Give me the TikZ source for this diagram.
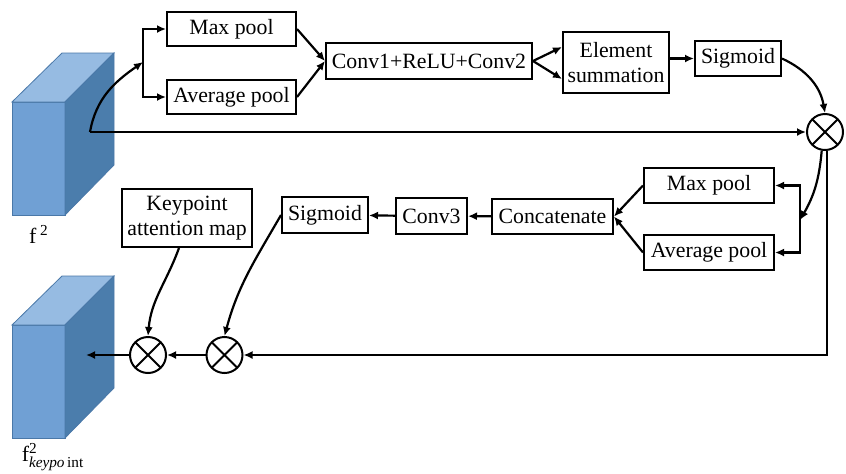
\documentclass[tikz,border=0pt]{standalone}
\usepackage{amsmath}
\usepackage{fontspec}
\setmainfont{Liberation Serif}
\newfontfamily\boxfont{Liberation Serif}
\usetikzlibrary{arrows.meta,calc}

\definecolor{cubefront}{HTML}{70A0D4}
\definecolor{cubetop}{HTML}{96BBE2}
\definecolor{cubeside}{HTML}{4B7DAC}
\definecolor{cubeedge}{HTML}{4A78A8}

\tikzset{
  blk/.style={draw, line width=1pt, inner sep=0pt, align=center,
    font=\boxfont\fontsize{10.9}{12.5}\selectfont},
  mul/.style={draw, circle, line width=1pt, minimum size=18pt, inner sep=0pt,
    path picture={\draw[line width=1pt]
      (path picture bounding box.south west) -- (path picture bounding box.north east)
      (path picture bounding box.north west) -- (path picture bounding box.south east);}},
  flow/.style={line width=1.1pt, -{Latex[length=4.5pt,width=4pt]}},
  cubeface/.style={draw=cubeedge, line width=0.4pt},
  lbl/.style={font=\boxfont\fontsize{10.9}{12.5}\selectfont, inner sep=1pt},
}

\begin{document}
\begin{tikzpicture}[x=0.5pt, y=0.5pt]
\useasboundingbox (0,0) rectangle (846,-473);

% feature cubes
\foreach \dy in {0,-223} {
  \begin{scope}[yshift=\dy*0.5pt]
    \fill[cubefront, cubeface] (12,-102) rectangle (65,-215);
    \fill[cubetop, cubeface] (12,-102) -- (62,-53) -- (114,-53) -- (65,-102) -- cycle;
    \fill[cubeside, cubeface] (65,-102) -- (114,-53) -- (114,-165) -- (65,-215) -- cycle;
  \end{scope}
}
\node[lbl] (fin) at (39,-234) {f\,$^{\text{2}}$};
\node[lbl] (fout) at (53,-457)
  {f$^{\text{2}}_{\text{\itshape keypo\/}\text{\,int}}$};

% channel attention
\node[blk, minimum width=64.5pt, minimum height=17pt] (maxA) at (231.5,-29) {Max pool};
\node[blk, minimum width=64.5pt, minimum height=17pt] (avgA) at (231.5,-97) {Average pool};
\node[blk, minimum width=103pt, minimum height=18pt] (conv) at (429,-61) {Conv1+ReLU+Conv2};
\node[blk, minimum width=53pt, minimum height=30.5pt] (elem) at (616,-62.5) {Element\\summation};
\node[blk, minimum width=43pt, minimum height=17.5pt] (sigA) at (738,-58.5) {Sigmoid};
\node[mul] (mulA) at (825,-132) {};

% spatial attention
\node[blk, minimum width=65pt, minimum height=17.5pt] (maxB) at (709,-185.5) {Max pool};
\node[blk, minimum width=65pt, minimum height=17.5pt] (avgB) at (709,-252.5) {Average pool};
\node[blk, minimum width=60.5pt, minimum height=17.5pt] (cat) at (552.5,-216.5) {Concatenate};
\node[blk, minimum width=35.5pt, minimum height=18pt] (convC) at (431.5,-216) {Conv3};
\node[blk, minimum width=43pt, minimum height=18pt] (sigB) at (325,-215) {Sigmoid};
\node[blk, minimum width=65pt, minimum height=29pt] (kpt) at (187,-218) {Keypoint\\attention map};
\node[mul] (mulB) at (224.5,-355) {};
\node[mul] (mulC) at (148,-355) {};

\coordinate (src) at (90,-132);
\coordinate (brA) at (143,-62);
\coordinate (brB) at (800,-220);
\coordinate (dst) at (86,-355);

\draw[flow] (src) to[out=80,in=215] (brA);
\draw[flow] (brA) |- (maxA);
\draw[flow] (brA) |- (avgA);
\draw[flow] (src) -- (mulA);
\draw[flow] (maxA.east) -- (conv.west);
\draw[flow] (avgA.east) -- (conv.west);
\draw[flow] (conv.east) -- ($(elem.west)+(0,15.5)$);
\draw[flow] (conv.east) -- ($(elem.west)+(0,-16.5)$);
\draw[flow] (elem.east|-sigA.west) -- (sigA.west);
\draw[flow] (sigA.east) to[out=-25,in=100] (mulA.north);

\draw[flow] (mulA.-100) to[out=-95,in=60] (brB);
\draw[flow] (brB) |- (maxB);
\draw[flow] (brB) |- (avgB);
\draw[flow] (maxB.west) -- (cat.east);
\draw[flow] (avgB.west) -- (cat.east);
\draw[flow] (cat) -- (convC);
\draw[flow] (convC) -- (sigB);

\draw[flow] (mulA.-84) |- (mulB);
\draw[flow] (mulB) -- (mulC);
\draw[flow] (mulC) -- (dst);
\draw[flow] ($(kpt.south)+(-8,0)$) to[out=-110,in=85] (mulC.north);
\draw[flow] (sigB.west) to[out=-120,in=75] (mulB.north);
\end{tikzpicture}
\end{document}
